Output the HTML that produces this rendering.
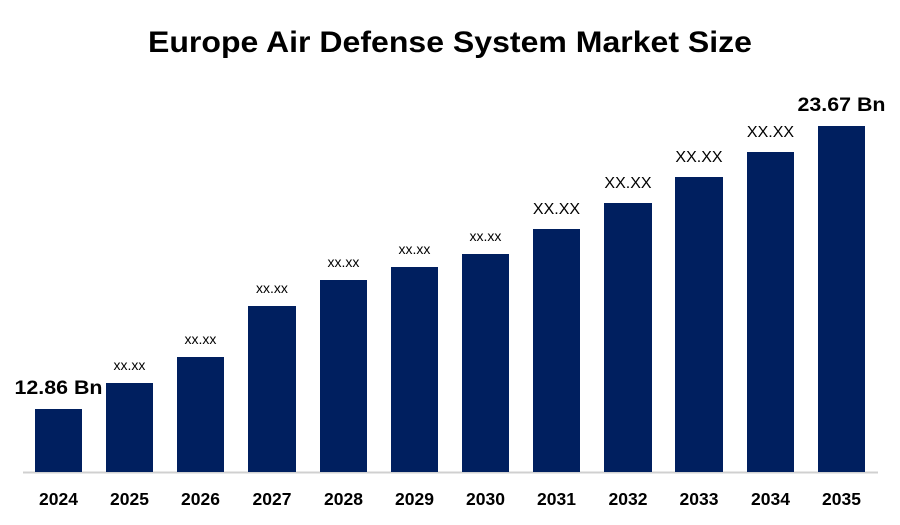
<!DOCTYPE html>
<html><head><style>body{margin:0;background:#fff}svg{display:block}</style></head><body>
<svg width="900" height="525" xmlns="http://www.w3.org/2000/svg" font-family="Liberation Sans, sans-serif">
<text x="450" y="52" text-anchor="middle" font-size="30" font-weight="bold" fill="#000" textLength="604" lengthAdjust="spacingAndGlyphs">Europe Air Defense System Market Size</text>
<line x1="23" y1="472.5" x2="878" y2="472.5" stroke="#d0d0d0" stroke-width="2"/>
<g fill="#001f5f">
<rect x="35" y="409" width="47" height="63"/>
<rect x="106" y="383" width="47" height="89"/>
<rect x="177" y="357" width="47" height="115"/>
<rect x="248" y="306" width="48" height="166"/>
<rect x="320" y="280" width="47" height="192"/>
<rect x="391" y="267" width="47" height="205"/>
<rect x="462" y="254" width="47" height="218"/>
<rect x="533" y="229" width="47" height="243"/>
<rect x="604" y="203" width="48" height="269"/>
<rect x="675" y="177" width="48" height="295"/>
<rect x="747" y="152" width="47" height="320"/>
<rect x="818" y="126" width="47" height="346"/>
</g>
<g font-size="19" font-weight="bold" text-anchor="middle" fill="#000">
<text x="58.5" y="394" textLength="88" lengthAdjust="spacingAndGlyphs">12.86 Bn</text>
<text x="841.5" y="111" textLength="88" lengthAdjust="spacingAndGlyphs">23.67 Bn</text>
</g>
<g font-size="14" text-anchor="middle" fill="#000">
<text x="129.5" y="370">xx.xx</text>
<text x="200.5" y="344">xx.xx</text>
<text x="272" y="293">xx.xx</text>
<text x="343.5" y="267">xx.xx</text>
<text x="414.5" y="254">xx.xx</text>
<text x="485.5" y="241">xx.xx</text>
</g>
<g font-size="16" text-anchor="middle" fill="#000">
<text x="556.5" y="214">XX.XX</text>
<text x="628" y="188">XX.XX</text>
<text x="699" y="162">XX.XX</text>
<text x="770.5" y="137">XX.XX</text>
</g>
<g font-size="17.5" font-weight="bold" text-anchor="middle" fill="#000">
<text x="58.5" y="505">2024</text>
<text x="129.5" y="505">2025</text>
<text x="200.5" y="505">2026</text>
<text x="272" y="505">2027</text>
<text x="343.5" y="505">2028</text>
<text x="414.5" y="505">2029</text>
<text x="485.5" y="505">2030</text>
<text x="556.5" y="505">2031</text>
<text x="628" y="505">2032</text>
<text x="699" y="505">2033</text>
<text x="770.5" y="505">2034</text>
<text x="841.5" y="505">2035</text>
</g>
</svg>
</body></html>
